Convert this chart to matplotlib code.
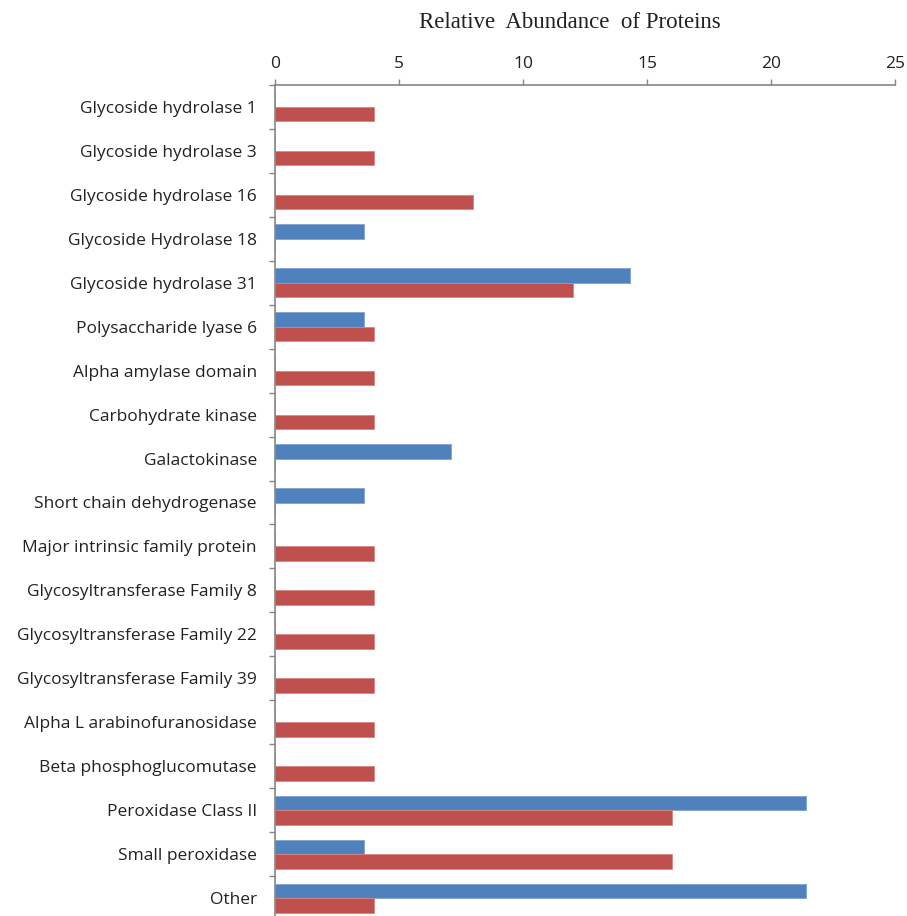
import numpy as np
import matplotlib.pyplot as plt

categories = [
    "Glycoside hydrolase 1",
    "Glycoside hydrolase 3",
    "Glycoside hydrolase 16",
    "Glycoside Hydrolase 18",
    "Glycoside hydrolase 31",
    "Polysaccharide lyase 6",
    "Alpha amylase domain",
    "Carbohydrate kinase",
    "Galactokinase",
    "Short chain dehydrogenase",
    "Major intrinsic family protein",
    "Glycosyltransferase Family 8",
    "Glycosyltransferase Family 22",
    "Glycosyltransferase Family 39",
    "Alpha L arabinofuranosidase",
    "Beta phosphoglucomutase",
    "Peroxidase Class II",
    "Small peroxidase",
    "Other",
]
blue_vals = [0, 0, 0, 3.6, 14.3, 3.6, 0, 0, 7.1, 3.6, 0, 0, 0, 0, 0, 0, 21.4, 3.6, 21.4]
red_vals = [4, 4, 8, 0, 12, 4, 4, 4, 0, 0, 4, 4, 4, 4, 4, 4, 16, 16, 4]
x_ticks = [0, 5, 10, 15, 20, 25]

blue = "#4F81BD"
red = "#C0504D"
gray = "#868686"

fig = plt.figure(figsize=(9.07, 9.16), dpi=100)
ax = fig.add_axes([275 / 907, -4 / 916, 620 / 907, 835 / 916])

y = np.arange(len(categories))
h = 0.33
ax.barh(y - h / 2, blue_vals, height=h, color=blue, edgecolor="#7fa3d3", linewidth=0.6)
ax.barh(y + h / 2, red_vals, height=h, color=red, edgecolor="#d88481", linewidth=0.6)

ax.set_xlim(0, 25)
ax.set_ylim(len(categories) - 0.5, -0.5)

# x axis on top
ax.xaxis.set_ticks_position("top")
ax.set_xticks(x_ticks)
ax.set_xticklabels([str(t) for t in x_ticks], fontfamily="Open Sans", fontsize=12.5, color="#222222")
ax.tick_params(axis="x", direction="out", length=4.5, width=1, color=gray, pad=5)

# category labels centred, tick marks between categories
ax.set_yticks(y)
ax.set_yticklabels(categories, fontfamily="Open Sans", fontsize=12.5, color="#222222")
ax.set_yticks(np.arange(len(categories) + 1) - 0.5, minor=True)
ax.tick_params(axis="y", which="major", length=0, pad=13)
ax.tick_params(axis="y", which="minor", direction="out", length=4, width=1, color=gray)

for side in ["right", "bottom"]:
    ax.spines[side].set_visible(False)
for side in ["left", "top"]:
    ax.spines[side].set_color(gray)
    ax.spines[side].set_linewidth(1.2)

fig.text(570 / 907, 1 - 23 / 916, "Relative  Abundance  of Proteins", ha="center", va="center",
         fontfamily="Liberation Serif", fontsize=16.5, color="#222222")

fig.savefig("out.png", dpi=100)
